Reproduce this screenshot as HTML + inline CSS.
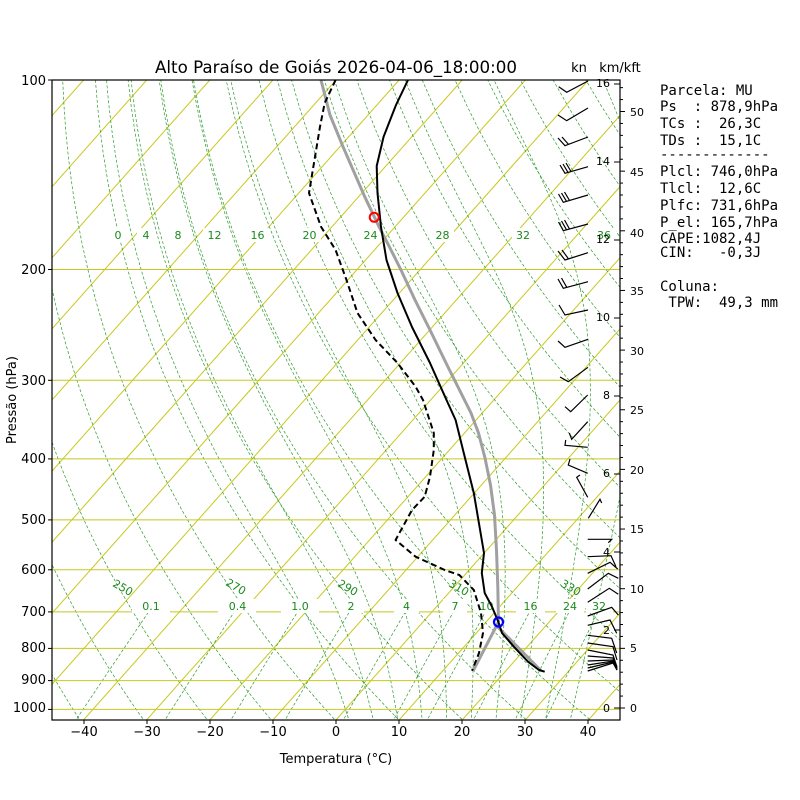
<!DOCTYPE html>
<html><head><meta charset="utf-8">
<style>
html,body{margin:0;padding:0;background:#fff;}
svg{display:block;font-family:"DejaVu Sans","Liberation Sans",sans-serif;}
.mono{font-family:"DejaVu Sans Mono","Liberation Mono",monospace;font-size:14px;}
</style></head>
<body>
<svg id="s" width="800" height="800" viewBox="0 0 800 800" xmlns="http://www.w3.org/2000/svg">
<defs><clipPath id="cp"><rect x="52" y="80" width="568" height="640"/></clipPath></defs>
<rect width="800" height="800" fill="#fff"/>
<g id="grid" clip-path="url(#cp)"></g>
<g clip-path="url(#cp)" fill="none">
<g stroke="#c8c820" stroke-width="1">
<line x1="52" x2="620" y1="269.5" y2="269.5"/><line x1="52" x2="620" y1="380.3" y2="380.3"/>
<line x1="52" x2="620" y1="458.9" y2="458.9"/><line x1="52" x2="620" y1="519.9" y2="519.9"/>
<line x1="52" x2="620" y1="569.8" y2="569.8"/><line x1="52" x2="620" y1="611.9" y2="611.9"/>
<line x1="52" x2="620" y1="648.4" y2="648.4"/><line x1="52" x2="620" y1="680.6" y2="680.6"/>
<line x1="52" x2="620" y1="709.4" y2="709.4"/>
</g>
</g>
<g font-size="11" fill="#1a8a1a" text-anchor="middle">
<g fill="#fff"><rect x="109" y="228" width="18" height="14"/><rect x="137" y="228" width="18" height="14"/><rect x="169" y="228" width="18" height="14"/><rect x="203" y="228" width="23" height="14"/><rect x="246" y="228" width="23" height="14"/><rect x="298" y="228" width="23" height="14"/><rect x="359" y="228" width="23" height="14"/><rect x="431" y="228" width="23" height="14"/><rect x="512" y="228" width="23" height="14"/><rect x="593" y="228" width="23" height="14"/>
<rect x="132" y="599" width="38" height="14"/><rect x="218" y="599" width="38" height="14"/><rect x="281" y="599" width="38" height="14"/><rect x="339" y="599" width="25" height="14"/><rect x="394" y="599" width="25" height="14"/><rect x="443" y="599" width="24" height="14"/><rect x="473" y="599" width="27" height="14"/><rect x="516" y="599" width="29" height="14"/><rect x="556" y="599" width="28" height="14"/><rect x="586" y="599" width="27" height="14"/></g>
<text x="118" y="239">0</text><text x="146" y="239">4</text><text x="178" y="239">8</text><text x="214.5" y="239">12</text><text x="257.5" y="239">16</text><text x="309.5" y="239">20</text><text x="370.5" y="239">24</text><text x="442.5" y="239">28</text><text x="523" y="239">32</text><text x="604" y="239">36</text>
<text x="151" y="610">0.1</text><text x="237.5" y="610">0.4</text><text x="300" y="610">1.0</text><text x="351" y="610">2</text><text x="406.5" y="610">4</text><text x="455" y="610">7</text><text x="486.5" y="610">10</text><text x="530.5" y="610">16</text><text x="570" y="610">24</text><text x="599" y="610">32</text>
<text transform="translate(121,591) rotate(30)">250</text>
<text transform="translate(234,590) rotate(30)">270</text>
<text transform="translate(346,591) rotate(30)">290</text>
<text transform="translate(457,591) rotate(30)">310</text>
<text transform="translate(569,591) rotate(30)">330</text>
</g>
<g clip-path="url(#cp)" fill="none" stroke-linejoin="round">
<polyline stroke="#a0a0a0" stroke-width="3" points="473,671 498.5,622"/>
<polyline stroke="#a0a0a0" stroke-width="3" points="541,670.7 497.5,626.7"/>
<polyline stroke="#a0a0a0" stroke-width="3" points="498.5,622 497.8,586.7 496.5,550 494.5,515 490.5,485 485,458 478.5,433 471,413 463,397 447,365 430,330 415,300 401,270 389,246 379,226.7 364.7,196.7 343,146.7 330,115 321,80"/>
<polyline stroke="#000" stroke-width="2" points="408,80 396,105 383.6,136.7 376.7,166 377.5,193 381,227 386.5,260 397.5,293 412,327 430,363 446.5,400 455.6,420 464.7,456.7 473.8,493 484,553 481.8,573 484.7,593 492,606.7 498.5,622.3 502,633 513.8,646.7 528,661.7 539,670 544.7,671.7"/>
<polyline stroke="#000" stroke-width="2" stroke-dasharray="6,3.5" points="335.6,80 324.7,103 320,126.7 309,193 321,226.7 335.6,250 346.5,280 357.5,313 375.6,340 397.5,363 415.6,386.7 423,400 433.8,433 433.8,450 430,476.7 424.7,496.7 412,510 395.6,540 415.6,556.7 444.7,570 459.3,575 473.8,590 481,613 483,633 479,653 472,670.7"/>
</g>
<circle cx="374.2" cy="217.3" r="4.5" fill="none" stroke="#f00" stroke-width="2"/>
<circle cx="498.5" cy="622" r="4.5" fill="none" stroke="#00f" stroke-width="2.2"/>
<g stroke="#000" stroke-width="1.2" fill="none">
<polyline points="588,81 566.7,92.3 558.7,86.7"/>
<polyline points="588,108 566.7,120.7 558,115"/>
<polyline points="588,137 565,145.7 558,138"/><line x1="568.5" y1="144.4" x2="562" y2="137"/>
<polyline points="588,166.7 565,173.3 560,165"/><line x1="568" y1="172.4" x2="563" y2="164"/><line x1="571" y1="171.5" x2="566" y2="163"/>
<polyline points="588,195 563.3,202.3 558.5,194"/><line x1="566.5" y1="201.3" x2="561.5" y2="193"/><line x1="569.5" y1="200.4" x2="564.5" y2="192"/>
<polyline points="588,224 563.3,230.7 558.5,222"/><line x1="566.5" y1="229.8" x2="561.5" y2="221"/><line x1="569.5" y1="229" x2="564.5" y2="220"/>
<polyline points="588,252.7 565,260 558,251"/><line x1="568.5" y1="258.9" x2="562" y2="250"/>
<polyline points="588,281.7 563.3,288.3 558,279"/><line x1="566.8" y1="287.4" x2="561.5" y2="278"/>
<polyline points="588,310 565,315 559,305"/>
<polyline points="588,339.3 565,347.3 558,341"/>
<polyline points="588,367.3 568.3,381.7 560,377"/>
<polyline points="587.7,395 570.7,411.7 565,406.7"/>
<polyline points="587.7,421.7 571.7,439.3 569.3,433"/>
<polyline points="587.7,447.3 565,445.3 565.7,440"/>
<polyline points="587.7,473.3 568.3,465 570,459"/>
<polyline points="587.7,497.3 576.7,477.3 580,475"/>
<polyline points="588.3,518.3 600,499.3 601.7,503"/>
<polyline points="587.7,539.3 611.7,539.3 608.3,542.7"/>
<polyline points="587.7,556.7 611,555.7 616,566.7"/>
<polyline points="587.7,573.3 610,562.3 617.7,569"/>
<polyline points="587.7,589 608.3,573.3 618.3,578.3"/>
<polyline points="587.7,602.3 609.3,588.3 618.3,594.3"/>
<polyline points="587.7,616 611.7,607.3 618.3,615"/>
<polyline points="587.7,625.3 610,620 616.7,633.3"/>
<polyline points="587.7,635.3 611.7,638.3 616.7,653"/>
<polyline points="587.7,643 613,646.7 617,660"/>
<polyline points="587.7,650 613,655 617,667"/>
<polyline points="587.7,656 613,658 617,668"/>
<polyline points="587.7,661 613,660 617,669"/>
<polyline points="587.7,665 613,661 617,670"/>
<polyline points="587.7,668 613,662 617,670"/>
<polyline points="587.7,671 613,663 617,670"/>
</g>
<rect x="52" y="80" width="568" height="640" fill="none" stroke="#000" stroke-width="1.2"/>
<g id="ticks" stroke="#000" stroke-width="1"></g>
<g stroke="#000"><line x1="48" x2="52" y1="80" y2="80"/><line x1="48" x2="52" y1="269.5" y2="269.5"/><line x1="48" x2="52" y1="380.3" y2="380.3"/><line x1="48" x2="52" y1="458.9" y2="458.9"/><line x1="48" x2="52" y1="519.9" y2="519.9"/><line x1="48" x2="52" y1="569.8" y2="569.8"/><line x1="48" x2="52" y1="611.9" y2="611.9"/><line x1="48" x2="52" y1="648.4" y2="648.4"/><line x1="48" x2="52" y1="680.6" y2="680.6"/><line x1="48" x2="52" y1="709.4" y2="709.4"/>
<line x1="84" x2="84" y1="720" y2="724"/><line x1="147" x2="147" y1="720" y2="724"/><line x1="210" x2="210" y1="720" y2="724"/><line x1="273" x2="273" y1="720" y2="724"/><line x1="336" x2="336" y1="720" y2="724"/><line x1="399" x2="399" y1="720" y2="724"/><line x1="462" x2="462" y1="720" y2="724"/><line x1="525" x2="525" y1="720" y2="724"/><line x1="588" x2="588" y1="720" y2="724"/></g>
<g font-size="13" fill="#000" text-anchor="end">
<text x="46" y="85">100</text><text x="46" y="274">200</text><text x="46" y="385">300</text><text x="46" y="463">400</text><text x="46" y="524">500</text><text x="46" y="574">600</text><text x="46" y="616">700</text><text x="46" y="652">800</text><text x="46" y="684">900</text><text x="46" y="712">1000</text>
</g>
<g font-size="13" fill="#000" text-anchor="middle">
<text x="84" y="736">−40</text><text x="147" y="736">−30</text><text x="210" y="736">−20</text><text x="273" y="736">−10</text><text x="336" y="736">0</text><text x="399" y="736">10</text><text x="462" y="736">20</text><text x="525" y="736">30</text><text x="588" y="736">40</text>
<text x="336" y="763">Temperatura (°C)</text>
<text transform="translate(16,400) rotate(-90)">Pressão (hPa)</text>
<text x="336" y="73" font-size="16.7">Alto Paraíso de Goiás 2026-04-06_18:00:00</text>
<text x="579" y="72">kn</text><text x="620" y="72">km/kft</text>
</g>
<g font-size="11" fill="#000">
<g text-anchor="end"><text x="610" y="87">16</text><text x="610" y="165">14</text><text x="610" y="243">12</text><text x="610" y="321">10</text><text x="610" y="399">8</text><text x="610" y="477">6</text><text x="610" y="556">4</text><text x="610" y="634">2</text><text x="610" y="712">0</text></g>
<text x="630" y="116">50</text><text x="630" y="176">45</text><text x="630" y="237">40</text><text x="630" y="295">35</text><text x="630" y="355">30</text><text x="630" y="414">25</text><text x="630" y="474">20</text><text x="630" y="533">15</text><text x="630" y="593">10</text><text x="630" y="652">5</text><text x="630" y="712">0</text>
</g>
<g class="mono" fill="#000">
<text x="660" y="95">Parcela: MU</text>
<text x="660" y="111" xml:space="preserve">Ps  : 878,9hPa</text>
<text x="660" y="128" xml:space="preserve">TCs :  26,3C</text>
<text x="660" y="145" xml:space="preserve">TDs :  15,1C</text>
<text x="660" y="159">-------------</text>
<text x="660" y="176" xml:space="preserve">Plcl: 746,0hPa</text>
<text x="660" y="193" xml:space="preserve">Tlcl:  12,6C</text>
<text x="660" y="210" xml:space="preserve">Plfc: 731,6hPa</text>
<text x="660" y="227" xml:space="preserve">P_el: 165,7hPa</text>
<text x="660" y="243" xml:space="preserve">CAPE:1082,4J</text>
<text x="660" y="257" xml:space="preserve">CIN:   -0,3J</text>
<text x="660" y="291">Coluna:</text>
<text x="660" y="307" xml:space="preserve"> TPW:  49,3 mm</text>
</g>
</svg>
<script>
(function(){
var NS="http://www.w3.org/2000/svg";
var g=document.getElementById('grid');
function Y(p){return 80+629.4*Math.log10(p/100);}
function X(T,p){return 336+6.311*T+0.8875*(720-Y(p));}
function pl(pts,col,w,dash){var e=document.createElementNS(NS,'polyline');
e.setAttribute('points',pts.map(function(a){return a[0].toFixed(1)+','+a[1].toFixed(1);}).join(' '));
e.setAttribute('fill','none');e.setAttribute('stroke',col);e.setAttribute('stroke-width',w);
if(dash)e.setAttribute('stroke-dasharray',dash);g.appendChild(e);}
var T,p;
for(T=-150;T<=50;T+=10){pl([[X(T,1050),Y(1050)],[X(T,100),Y(100)]],'#c8c820',1);}
for(var th=200;th<=500;th+=10){var a=[];for(p=1050;p>=100;p-=10){a.push([X(th*Math.pow(p/1000,0.2857)-273.15,p),Y(p)]);}pl(a,'#2e9a2e',0.7,'3,2');}
var Rd=287.04,Cp=1005.7,Lv=2.501e6;
function dTdp(T,p){var es=6.112*Math.exp(17.67*(T-273.15)/(T-29.65));var rs=0.622*es/(p-es);
return (Rd*T+Lv*rs)/(p*(Cp+Lv*Lv*rs*0.622/(Rd*T*T)));}
for(var tw=0;tw<=36;tw+=4){var Tk=tw+273.15,a=[];
var T2=Tk+dTdp(Tk,1000)*50;a.push([X(T2-273.15,1050),Y(1050)]);
for(p=1000;p>100;p-=5){a.push([X(Tk-273.15,p),Y(p)]);var k1=dTdp(Tk,p);var k2=dTdp(Tk-5*k1,p-5);Tk=Tk-5*(k1+k2)/2;}
a.push([X(Tk-273.15,100),Y(100)]);pl(a,'#2e9a2e',0.7,'3,2');}
[0.1,0.4,1,2,4,7,10,16,24,32].forEach(function(w){var a=[];for(p=1050;p>=700;p-=10){var e=w*p/(622+w);var l=Math.log(e/6.112);a.push([X(243.5*l/(17.67-l),p),Y(p)]);}pl(a,'#2e9a2e',0.7,'3,2');});
var t=document.getElementById('ticks');
function ln(x1,y1,x2,y2){var e=document.createElementNS(NS,'line');e.setAttribute('x1',x1);e.setAttribute('y1',y1);e.setAttribute('x2',x2);e.setAttribute('y2',y2);t.appendChild(e);}
for(var km=0;km<=16;km+=2){var y=708-km*39;ln(614,y,620,y);}
for(var kf=0;kf<=52;kf++){var y=708-kf*11.93;ln(620,y,kf%5==0?625:623,y);}
})();
</script>
</body></html>
